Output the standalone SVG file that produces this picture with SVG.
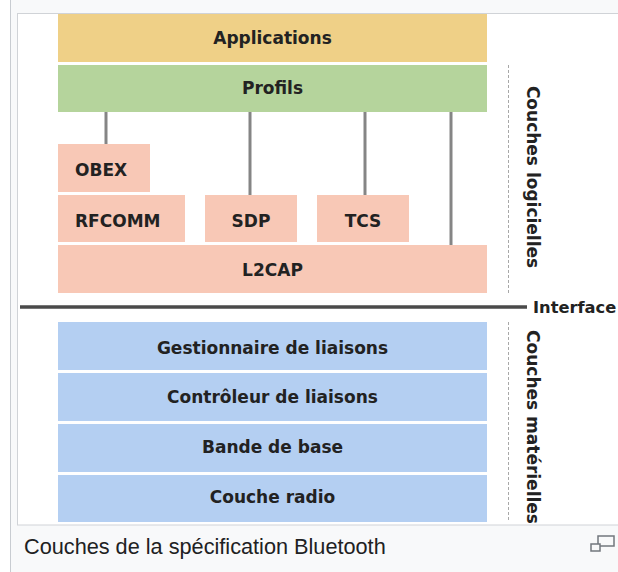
<svg xmlns="http://www.w3.org/2000/svg" width="618" height="572" viewBox="0 0 618 572">
<style>
.lbl{font-family:"DejaVu Sans",sans-serif;font-weight:bold;font-size:17px;fill:#222;}
.c{text-anchor:middle;}
.app{fill:#efd087;}
.prof{fill:#b5d49c;}
.pink{fill:#f8c8b6;}
.blue{fill:#b4cff2;}
.conn{stroke:#858585;stroke-width:3;fill:none;}
.dash{stroke:#a8a8a8;stroke-width:1;stroke-dasharray:3,2;fill:none;}
</style>
<rect x="0" y="0" width="618" height="572" fill="#ffffff"/>
<rect x="10.5" y="-5" width="620" height="590" fill="#f8f9fa" stroke="#c8ccd1" stroke-width="1"/>
<rect x="17.5" y="13.5" width="610" height="511.5" fill="#ffffff" stroke="#d0d3d7" stroke-width="1"/>

<g id="connectors">
  <line class="conn" x1="106" y1="112" x2="106" y2="144"/>
  <line class="conn" x1="250" y1="112" x2="250" y2="195"/>
  <line class="conn" x1="365" y1="112" x2="365" y2="195"/>
  <line class="conn" x1="451" y1="112" x2="451" y2="245"/>
</g>

<g id="applications"><rect class="app" x="58" y="14" width="429" height="48"/><text class="lbl c" x="272.5" y="44">Applications</text></g>
<g id="profils"><rect class="prof" x="58" y="65" width="429" height="47"/><text class="lbl c" x="272.5" y="94">Profils</text></g>
<g id="obex"><rect class="pink" x="58" y="144" width="92" height="48"/><text class="lbl" x="75" y="176">OBEX</text></g>
<g id="rfcomm"><rect class="pink" x="58" y="195" width="127" height="47"/><text class="lbl" x="75" y="227">RFCOMM</text></g>
<g id="sdp"><rect class="pink" x="205" y="195" width="92" height="47"/><text class="lbl c" x="251" y="227">SDP</text></g>
<g id="tcs"><rect class="pink" x="317" y="195" width="92" height="47"/><text class="lbl c" x="363" y="227">TCS</text></g>
<g id="l2cap"><rect class="pink" x="58" y="245" width="429" height="48"/><text class="lbl c" x="272.5" y="276">L2CAP</text></g>

<g id="interface">
  <line x1="20" y1="307" x2="527" y2="307" stroke="#4a4a4a" stroke-width="3.5"/>
  <text class="lbl" x="533" y="313" style="font-size:16.3px">Interface</text>
</g>

<g id="gestionnaire"><rect class="blue" x="58" y="322" width="429" height="48"/><text class="lbl c" x="272.5" y="354">Gestionnaire de liaisons</text></g>
<g id="controleur"><rect class="blue" x="58" y="373" width="429" height="48"/><text class="lbl c" x="272.5" y="403">Contrôleur de liaisons</text></g>
<g id="bande"><rect class="blue" x="58" y="424" width="429" height="48"/><text class="lbl c" x="272.5" y="453">Bande de base</text></g>
<g id="radio"><rect class="blue" x="58" y="475" width="429" height="47"/><text class="lbl c" x="272.5" y="503">Couche radio</text></g>

<g id="logicielles">
  <line class="dash" x1="508.5" y1="65" x2="508.5" y2="293"/>
  <text class="lbl c" transform="translate(527,177) rotate(90)" x="0" y="0">Couches logicielles</text>
</g>
<g id="materielles">
  <line class="dash" x1="508.5" y1="322" x2="508.5" y2="522"/>
  <text class="lbl c" transform="translate(527,427) rotate(90)" x="0" y="0">Couches matérielles</text>
</g>

<text x="24" y="554" font-family="Liberation Sans, Arial, sans-serif" font-size="21.7" fill="#202122">Couches de la spécification Bluetooth</text>
<g id="enlarge" fill="none" stroke="#72777d" stroke-width="1.5">
  <rect x="598" y="536" width="16" height="10" fill="#f8f9fa"/>
  <rect x="591" y="544" width="9" height="7" fill="#f8f9fa"/>
</g>
</svg>
